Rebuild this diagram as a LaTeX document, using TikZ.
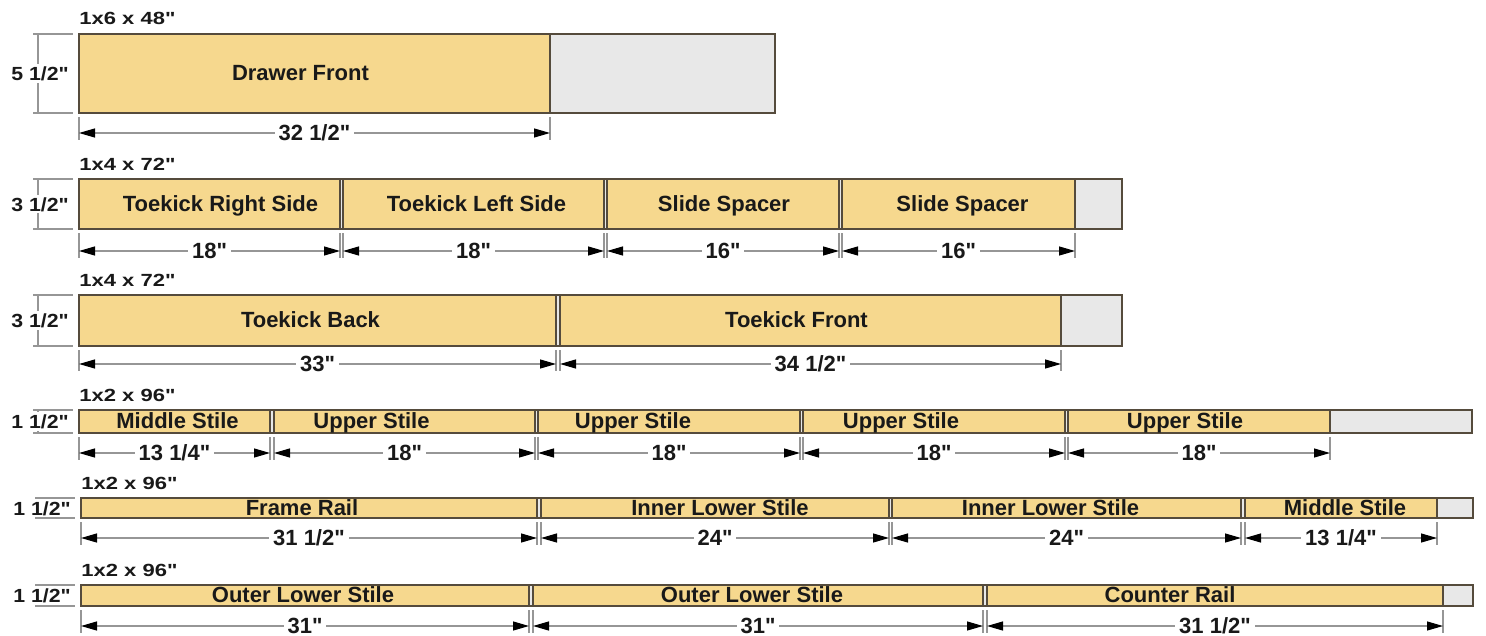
\documentclass[tikz,border=0pt]{standalone}
\usepackage{fontspec}
\usepackage{graphicx}
\setmainfont{Liberation Sans}
\newfontfamily\lsans{Liberation Sans}
\usetikzlibrary{arrows.meta}
\definecolor{wood}{RGB}{246,216,142}
\definecolor{waste}{RGB}{232,232,232}
\definecolor{edge}{RGB}{85,75,60}
\definecolor{dimgray}{RGB}{150,150,150}
\definecolor{ink}{RGB}{25,25,25}
\tikzset{
 boardbox/.style={draw=edge, fill=waste, line width=0.75pt, anchor=north west, inner sep=0pt, outer sep=0pt},
 piecebox/.style={draw=edge, fill=wood, line width=0.75pt, anchor=north west, inner sep=0pt, outer sep=0pt},
 plabel/.style={text=ink, inner sep=0pt, font=\lsans\bfseries\fontsize{11}{11}\selectfont, text height=0.72em, text depth=0pt},
 extline/.style={draw=dimgray, line width=0.6pt},
 dimline/.style={draw=dimgray, line width=0.6pt,
   {Triangle[length=8pt,width=4.5pt,black]}-{Triangle[length=8pt,width=4.5pt,black]}},
 dimtext/.style={fill=white, text=ink, inner xsep=2pt, inner ysep=1pt,
   font=\lsans\bfseries\fontsize{11}{11}\selectfont, text height=0.72em, text depth=0pt},
 htext/.style={fill=white, text=ink, inner xsep=0.5pt, inner ysep=1pt,
   font=\lsans\bfseries\fontsize{9.5}{9.5}\selectfont, text height=0.72em, text depth=0pt},
 blabel/.style={text=ink, inner sep=0pt, anchor=base west, font=\lsans\bfseries\fontsize{8.8}{8.8}\selectfont}
}
\newcommand\wide[2][1.12]{\scalebox{#1}[1]{#2}}
\newcommand\mkboard[5]{% name, x1, x2, top, bottom
 \node[boardbox, minimum width={(#3-#2)*0.5pt}, minimum height={(#5-#4)*0.5pt}] (#1) at (#2,#4) {};}
\newcommand\mkpiece[7][0]{% [label shift px] name, x1, x2, top, bottom, label
 \node[piecebox, minimum width={(#4-#3)*0.5pt}, minimum height={(#6-#5)*0.5pt}] (#2) at (#3,#5) {};
 \node[plabel] (#2l) at ([xshift={#1*0.5pt}]#2.center) {#7};}
\newcommand\dm[5][0]{% [label shift px] piece, dim coordinate, extension end coordinate, label
 \draw[extline] ([yshift=-2pt]#2.south west) -- (#2.south west |- #4);
 \draw[extline] ([yshift=-2pt]#2.south east) -- (#2.south east |- #4);
 \draw[dimline] (#2.south west |- #3) -- node[dimtext, xshift={#1*0.5pt}] (#2d) {#5} (#2.south east |- #3);}
\newcommand\hdim[2]{% board, label
 \draw[extline] ([xshift=-20.5pt]#1.north west) -- ([xshift=-20.5pt]#1.south west);
 \node[htext] (#1h) at ([xshift=-19.5pt]#1.west) {\wide{#2}};
 \draw[extline] ([xshift=-23pt]#1.north west) -- ([xshift=-3pt]#1.north west);
 \draw[extline] ([xshift=-23pt]#1.south west) -- ([xshift=-3pt]#1.south west);}
\newcommand\blab[2]{% board, label
 \node[blabel] (#1t) at ([yshift=4.5pt]#1.north west) {\wide[1.25]{#2}};}

\begin{document}
\begin{tikzpicture}[x=0.5pt, y=-0.5pt]
\useasboundingbox[fill=white] (0,0) rectangle (1486,636);

% ---------- Row 1 ----------
\mkboard{b1}{79}{775}{34}{113}
\mkpiece[-14]{p11}{79}{550}{34}{113}{Drawer Front}
\blab{b1}{1x6 x 48"}
\hdim{b1}{5 1/2"}
\coordinate (d1) at (0,133); \coordinate (e1) at (0,140);
\dm{p11}{d1}{e1}{32 1/2"}

% ---------- Row 2 ----------
\mkboard{b2}{79}{1122}{179}{229}
\mkpiece[11]{p21}{79}{340}{179}{229}{Toekick Right Side}
\mkpiece[3]{p22}{343}{604}{179}{229}{Toekick Left Side}
\mkpiece[1]{p23}{607}{839}{179}{229}{Slide Spacer}
\mkpiece[4]{p24}{842}{1075}{179}{229}{Slide Spacer}
\blab{b2}{1x4 x 72"}
\hdim{b2}{3 1/2"}
\coordinate (d2) at (0,251); \coordinate (e2) at (0,258);
\dm{p21}{d2}{e2}{18"}
\dm{p22}{d2}{e2}{18"}
\dm{p23}{d2}{e2}{16"}
\dm{p24}{d2}{e2}{16"}

% ---------- Row 3 ----------
\mkboard{b3}{79}{1122}{295}{346}
\mkpiece[-7]{p31}{79}{556}{295}{346}{Toekick Back}
\mkpiece[-14]{p32}{560}{1061}{295}{346}{Toekick Front}
\blab{b3}{1x4 x 72"}
\hdim{b3}{3 1/2"}
\coordinate (d3) at (0,364); \coordinate (e3) at (0,371);
\dm{p31}{d3}{e3}{33"}
\dm{p32}{d3}{e3}{34 1/2"}

% ---------- Row 4 ----------
\mkboard{b4}{79}{1472}{410}{433}
\mkpiece[3]{p41}{79}{270}{410}{433}{Middle Stile}
\mkpiece[-33]{p42}{274}{535}{410}{433}{Upper Stile}
\mkpiece[-36]{p43}{538}{800}{410}{433}{Upper Stile}
\mkpiece[-33]{p44}{803}{1065}{410}{433}{Upper Stile}
\mkpiece[-14]{p45}{1068}{1330}{410}{433}{Upper Stile}
\blab{b4}{1x2 x 96"}
\hdim{b4}{1 1/2"}
\coordinate (d4) at (0,453); \coordinate (e4) at (0,460);
\dm{p41}{d4}{e4}{13 1/4"}
\dm{p42}{d4}{e4}{18"}
\dm{p43}{d4}{e4}{18"}
\dm{p44}{d4}{e4}{18"}
\dm{p45}{d4}{e4}{18"}

% ---------- Row 5 ----------
\mkboard{b5}{81}{1473}{498}{518}
\mkpiece[-7]{p51}{81}{537}{498}{518}{Frame Rail}
\mkpiece[5]{p52}{541}{889}{498}{518}{Inner Lower Stile}
\mkpiece[-16]{p53}{892}{1241}{498}{518}{Inner Lower Stile}
\mkpiece[4]{p54}{1245}{1437}{498}{518}{Middle Stile}
\blab{b5}{1x2 x 96"}
\hdim{b5}{1 1/2"}
\coordinate (d5) at (0,538); \coordinate (e5) at (0,545);
\dm{p51}{d5}{e5}{31 1/2"}
\dm{p52}{d5}{e5}{24"}
\dm{p53}{d5}{e5}{24"}
\dm{p54}{d5}{e5}{13 1/4"}

% ---------- Row 6 ----------
\mkboard{b6}{81}{1473}{585}{606}
\mkpiece[-2]{p61}{81}{529}{585}{606}{Outer Lower Stile}
\mkpiece[-6]{p62}{533}{983}{585}{606}{Outer Lower Stile}
\mkpiece[-45]{p63}{987}{1443}{585}{606}{Counter Rail}
\blab{b6}{1x2 x 96"}
\hdim{b6}{1 1/2"}
\coordinate (d6) at (0,626); \coordinate (e6) at (0,633);
\dm{p61}{d6}{e6}{31"}
\dm{p62}{d6}{e6}{31"}
\dm{p63}{d6}{e6}{31 1/2"}
\end{tikzpicture}
\end{document}
